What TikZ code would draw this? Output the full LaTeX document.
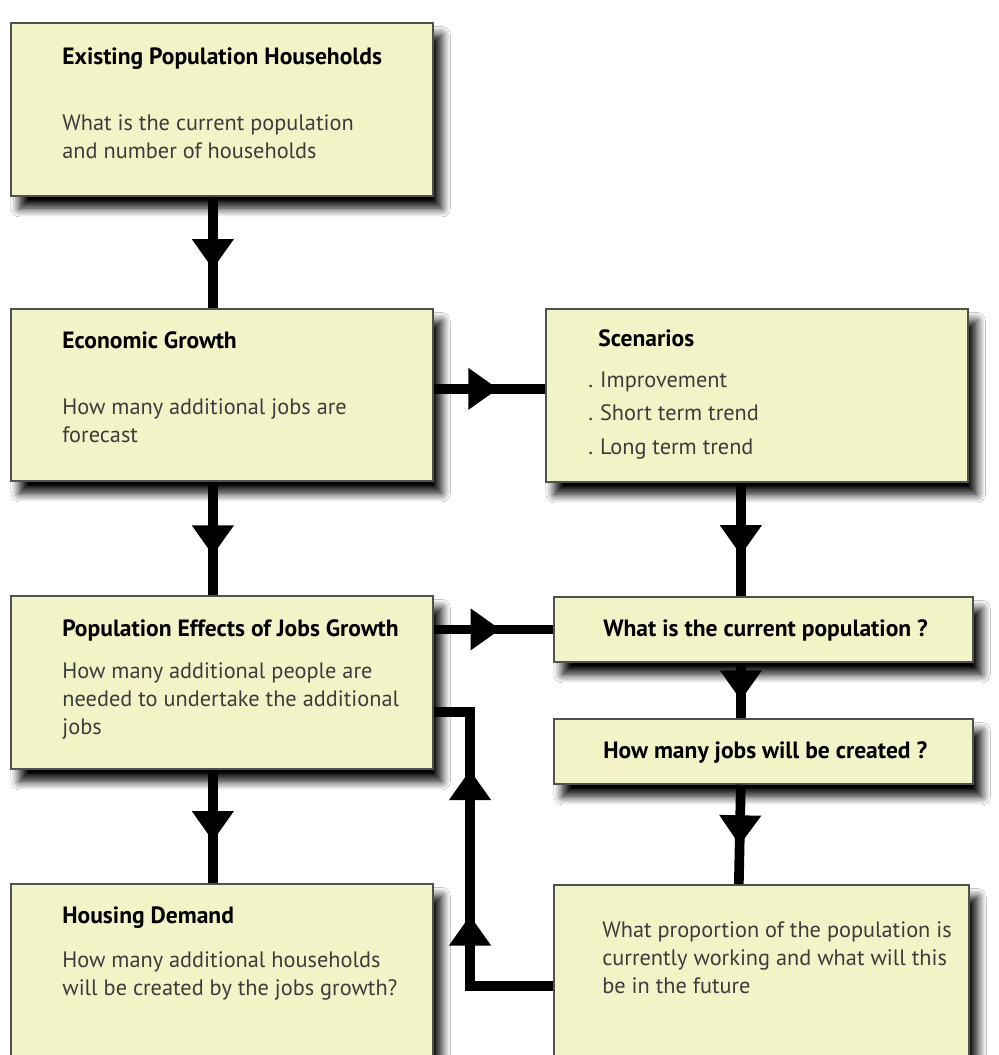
\documentclass[tikz,border=0pt]{standalone}
\usepackage{fontspec}
\setmainfont{PT Sans}
\usetikzlibrary{positioning, arrows.meta, decorations.markings, shadows.blur}

\definecolor{boxfill}{HTML}{F3F3C8}
\definecolor{boxline}{HTML}{505050}
\definecolor{bodytext}{HTML}{3C3C3C}

\tikzset{
  box/.style={draw=boxline, line width=1pt, fill=boxfill, anchor=north west, inner sep=0pt,
    blur shadow={shadow xshift=5pt, shadow yshift=-7pt, shadow blur radius=5pt,
      shadow blur steps=10, shadow opacity=100}},
  title/.style={anchor=base west, inner sep=0pt, text=black, font=\fontsize{13.4}{15.9}\selectfont\bfseries},
  body/.style={anchor=base west, inner sep=0pt, align=left, text=bodytext, font=\fontsize{12.7}{15.9}\selectfont},
  flow/.style={line width=5.5pt, postaction={decorate},
    decoration={markings, mark=at position #1 with {\arrow{Triangle[length=0.6cm, width=0.8cm]}}}},
  feedback/.style={line width=5.5pt, postaction={decorate},
    decoration={markings,
      mark=at position 0.39 with {\arrow{Triangle[length=0.6cm, width=0.8cm]}},
      mark=at position 0.76 with {\arrow{Triangle[length=0.6cm, width=0.8cm]}}}}
}

\begin{document}
\begin{tikzpicture}[x=0.02cm, y=-0.02cm]
  \clip (0,0) rectangle (998,1055);
  \fill[white] (0,0) rectangle (998,1055);

  % boxes
  \node[box, minimum width=8.44cm, minimum height=3.46cm] (exist) at (10,22) {};
  \node[box, minimum width=8.44cm, minimum height=3.44cm] (econ) at (10,308) {};
  \node[box, minimum width=8.44cm, minimum height=3.46cm] (scen) at (545,308) {};
  \node[box, minimum width=8.44cm, minimum height=3.46cm] (popeff) at (10,595) {};
  \node[box, minimum width=8.38cm, minimum height=1.30cm] (curpop) at (553,596) {};
  \node[box, minimum width=8.38cm, minimum height=1.30cm] (jobs) at (553,718) {};
  \node[box, minimum width=8.44cm, minimum height=4.00cm] (housing) at (10,883) {};
  \node[box, minimum width=8.30cm, minimum height=4.04cm] (propn) at (553,884) {};

  % texts (multi-line nodes sit on their last line)
  \node[title] (existtitle) at (62,64) {Existing Population Households};
  \node[body] (existbody) at (62,158) {What is the current population\\and number of households};
  \node[title] (econtitle) at (62,348) {Economic Growth};
  \node[body] (econbody) at (62,442) {How many additional jobs are\\forecast};
  \node[title] (scentitle) at (598,346) {Scenarios};
  \node[body] (scenone) at (588,387) {.\hspace{4pt}Improvement};
  \node[body] (scentwo) at (588,420) {.\hspace{4pt}Short term trend};
  \node[body] (scenthree) at (588,454) {.\hspace{4pt}Long term trend};
  \node[title] (popefftitle) at (62,636) {Population Effects of Jobs Growth};
  \node[body] (popeffbody) at (62,734) {How many additional people are\\needed to undertake the additional\\jobs};
  \node[title] (curpoptext) at (603,636) {What is the current population ?};
  \node[title] (jobstext) at (603,758) {How many jobs will be created ?};
  \node[title] (housingtitle) at (62,923) {Housing Demand};
  \node[body] (housingbody) at (62,995) {How many additional households\\will be created by the jobs growth?};
  \node[body] (propnbody) at (602,993) {What proportion of the population is\\currently working and what will this\\be in the future};

  % connectors
  \coordinate (fbturn) at (470,712);
  \draw[flow=0.65] ([xshift=-0.18cm]exist.south) -- ([xshift=-0.18cm]econ.north);
  \draw[flow=0.65] ([xshift=-0.18cm]econ.south) -- ([xshift=-0.18cm]popeff.north);
  \draw[flow=0.63] ([xshift=-0.18cm]popeff.south) -- ([xshift=-0.18cm]housing.north);
  \draw[flow=0.58] ([yshift=0.12cm]econ.east) -- ([yshift=0.12cm]econ.east -| scen.west);
  \draw[flow=0.64] ([xshift=-0.32cm]scen.south) -- ([xshift=-0.32cm]scen.south |- curpop.north);
  \draw[flow=0.56] (popeff.east |- curpop.west) -- (curpop.west);
  \draw[flow=0.68] ([xshift=-0.45cm]curpop.south) -- ([xshift=-0.45cm]jobs.north);
  \draw[flow=0.61] ([xshift=-0.45cm]jobs.south) -- ([xshift=-0.45cm]propn.north);
  \draw[feedback] (propn.west) -| (fbturn) -- (fbturn -| popeff.east);
\end{tikzpicture}
\end{document}
